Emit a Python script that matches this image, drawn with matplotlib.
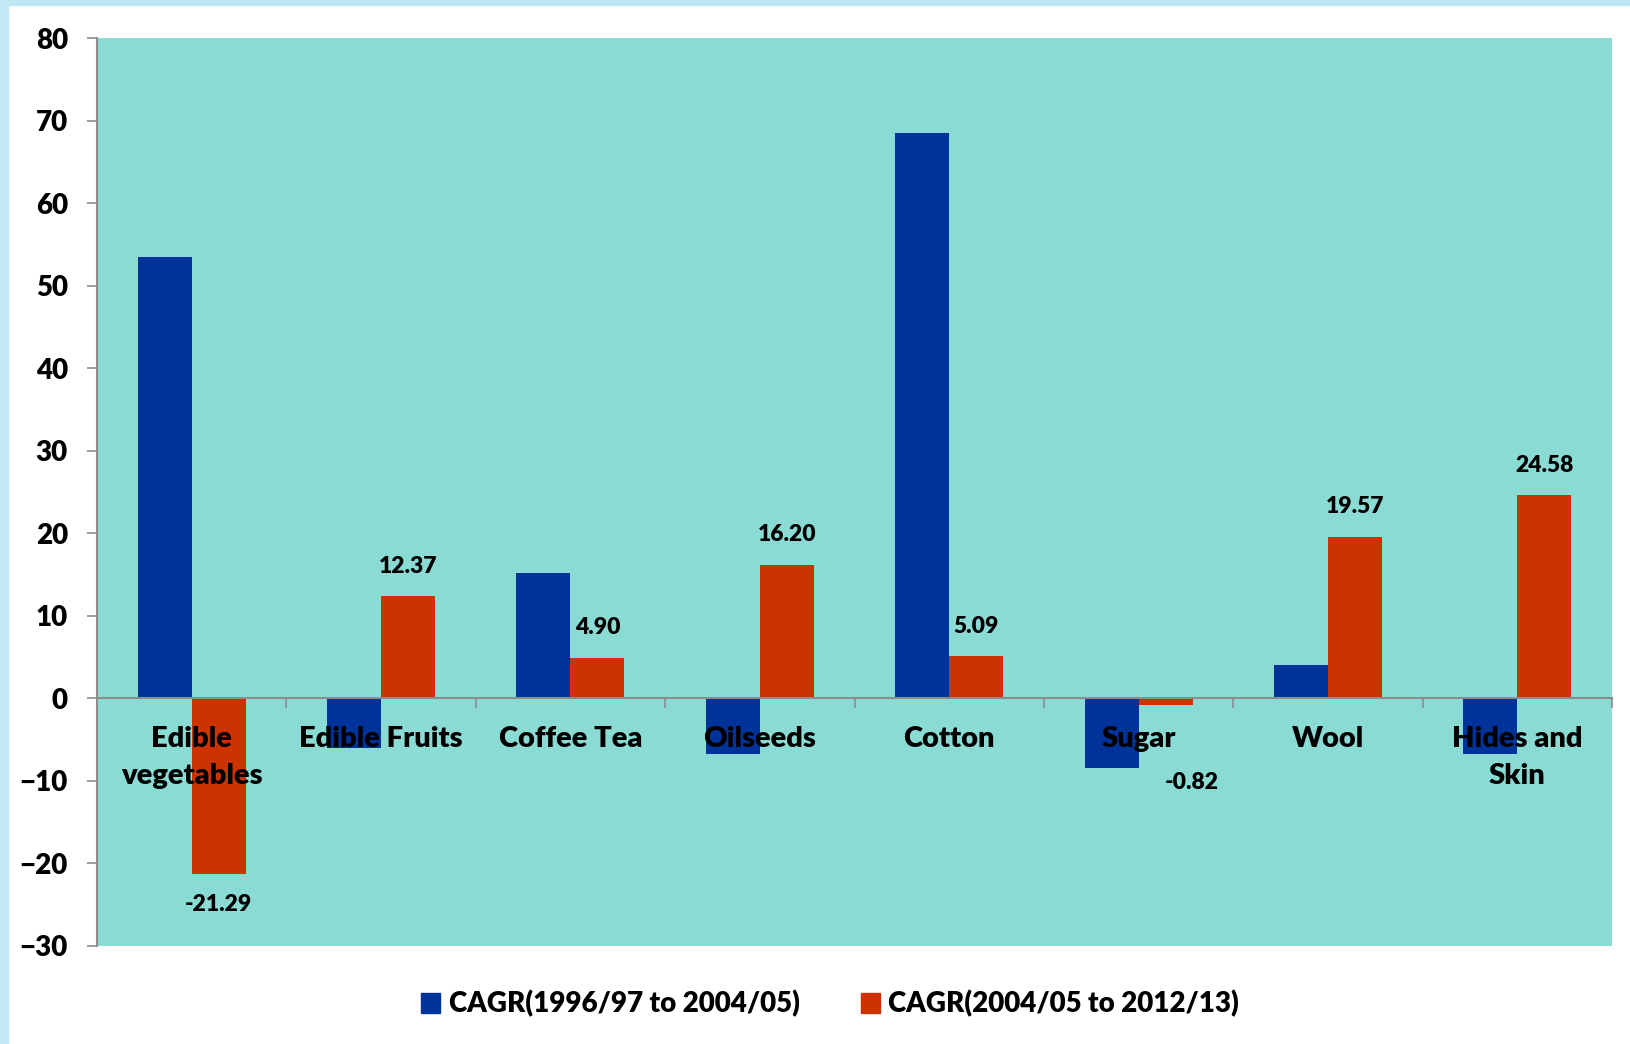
import numpy as np
import matplotlib
matplotlib.use("Agg")
import matplotlib.pyplot as plt
from matplotlib.patches import Rectangle

plt.rcParams['font.family'] = ['Lato', 'DejaVu Sans']

categories = ['Edible\nvegetables', 'Edible Fruits', 'Coffee Tea', 'Oilseeds',
              'Cotton', 'Sugar', 'Wool', 'Hides and\nSkin']
cagr_early = [53.5, -6.0, 15.2, -6.8, 68.5, -8.4, 4.0, -6.8]
cagr_late = [-21.29, 12.37, 4.90, 16.20, 5.09, -0.82, 19.57, 24.58]
series_names = ['CAGR(1996/97 to 2004/05)', 'CAGR(2004/05 to 2012/13)']

BLUE = '#003399'
RED = '#CC3300'
PLOT_BG = '#8BDBD5'
AXIS_GREY = '#8C8C8C'
WEIGHT = 'heavy'

fig = plt.figure(figsize=(16.30, 10.44), dpi=100)
fig.patch.set_facecolor('white')
# thin slide border along top and left
fig.patches.append(Rectangle((0, 1 - 5 / 1044), 1, 5 / 1044, transform=fig.transFigure,
                             color='#BEE7F5', zorder=0))
fig.patches.append(Rectangle((0, 0), 8 / 1630, 1, transform=fig.transFigure,
                             color='#C4E9F6', zorder=0))

ax = fig.add_axes([97 / 1630, 1 - 946 / 1044, (1612 - 97) / 1630, (946 - 38) / 1044])
ax.set_facecolor(PLOT_BG)

x = np.arange(len(categories))
w = 0.285
ax.bar(x - w / 2, cagr_early, w, color=BLUE, zorder=1)
ax.bar(x + w / 2, cagr_late, w, color=RED, zorder=1)

# value labels on the second series
nudge = {5: (19, -34)}  # Sugar label sits lower, clear of the category text
for i, v in enumerate(cagr_late):
    dx, dy = nudge.get(i, (0, 0))
    off = 14 if v >= 0 else -14
    ax.annotate(f'{v:.2f}', (x[i] + w / 2, v), xytext=(dx, off + dy),
                textcoords='offset points', ha='center',
                va='bottom' if v >= 0 else 'top',
                fontsize=16.5, fontweight=WEIGHT, color='black', zorder=5)

ax.set_xlim(-0.5, len(categories) - 0.5)
ax.set_ylim(-30, 80)
ax.set_yticks(np.arange(-30, 81, 10))
ax.tick_params(axis='y', length=7, width=1.2, color=AXIS_GREY, pad=14,
               labelsize=20)
for lab in ax.get_yticklabels():
    lab.set_fontweight(WEIGHT)

for s in ['top', 'right']:
    ax.spines[s].set_visible(False)
ax.spines['left'].set_color(AXIS_GREY)
ax.spines['left'].set_linewidth(1.5)
ax.spines['bottom'].set_position(('data', 0))
ax.spines['bottom'].set_color(AXIS_GREY)
ax.spines['bottom'].set_linewidth(1.5)
ax.spines['bottom'].set_zorder(3)

# boundary ticks hang below the zero line, names sit on minor ticks
ax.set_xticks(np.arange(-0.5, len(categories), 1.0))
ax.set_xticklabels([])
ax.tick_params(axis='x', which='major', length=7, width=1.2, color=AXIS_GREY)
ax.set_xticks(x, minor=True)
ax.set_xticklabels(categories, minor=True, fontsize=21, fontweight=WEIGHT,
                   linespacing=1.5)
ax.tick_params(axis='x', which='minor', length=0, pad=20)

handles = [Rectangle((0, 0), 1, 1, color=BLUE), Rectangle((0, 0), 1, 1, color=RED)]
fig.legend(handles, series_names, loc='center', ncol=2,
           bbox_to_anchor=(830 / 1630, 1 - 1004 / 1044), frameon=False,
           prop={'size': 20, 'weight': WEIGHT}, handlelength=0.7, handleheight=0.7,
           handletextpad=0.3, columnspacing=2.2)

fig.savefig('out.png', dpi=100, facecolor='white')
